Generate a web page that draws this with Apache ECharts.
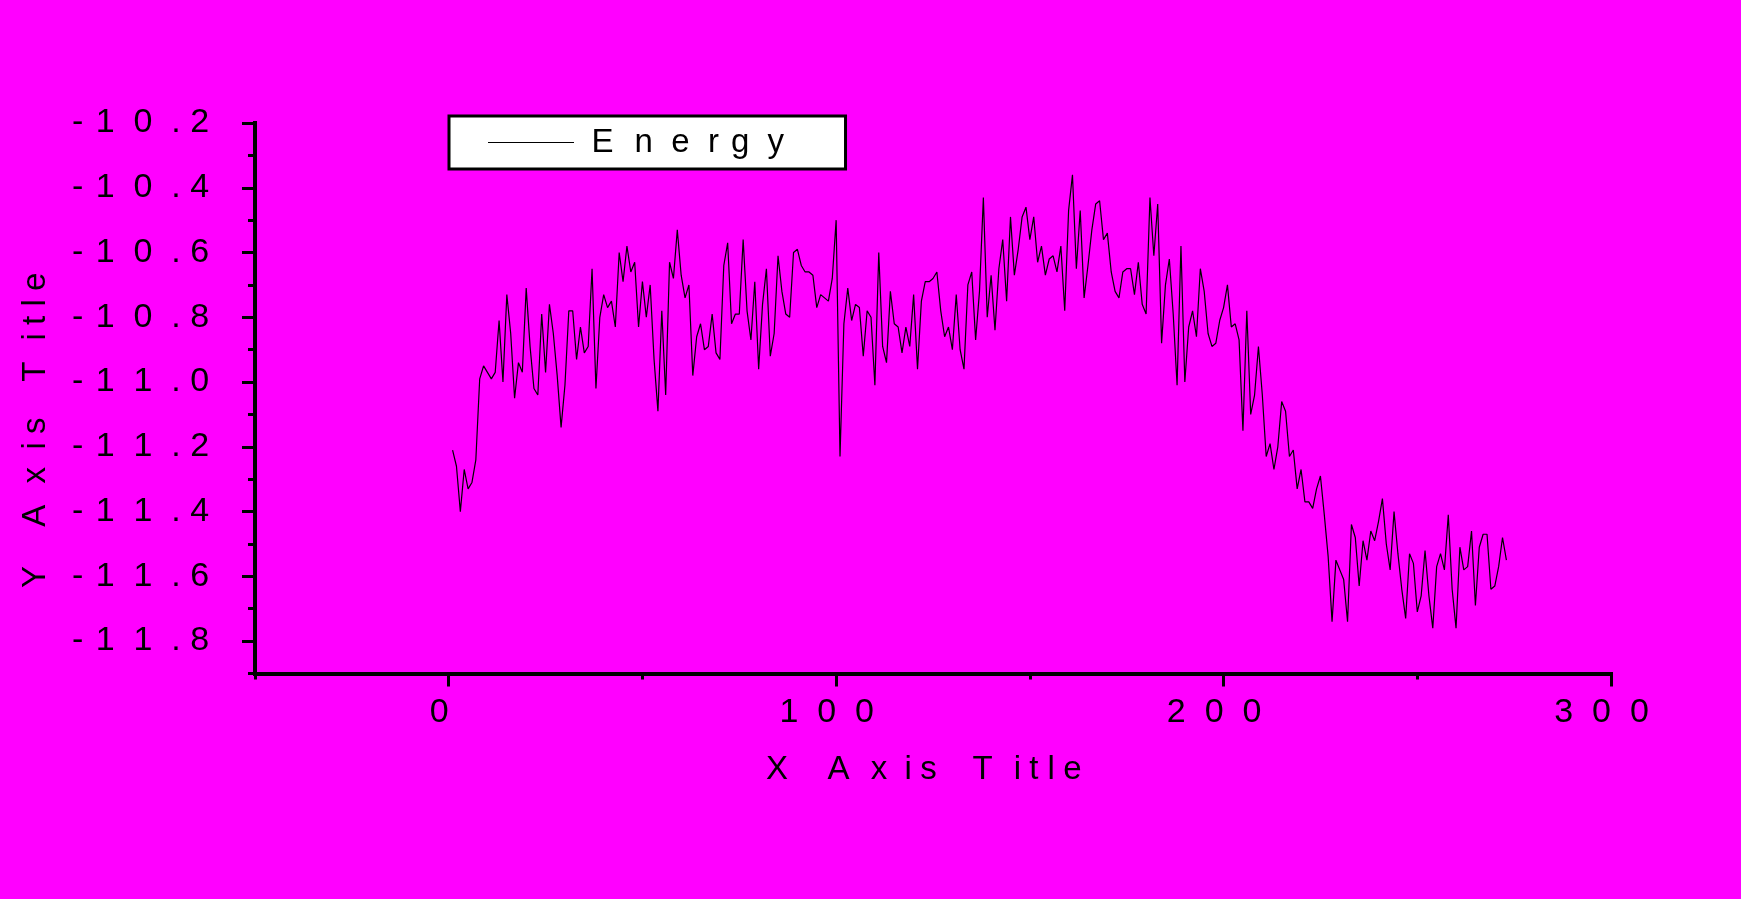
<!DOCTYPE html>
<html>
<head>
<meta charset="utf-8">
<script src="https://cdn.jsdelivr.net/npm/echarts@6/dist/echarts.min.js"></script>
<style>
html,body{margin:0;padding:0;background:#FF00FF;}
#chart{width:1741px;height:899px;}
</style>
</head>
<body>
<div id="chart"></div>
<script>
// ---- data ----
const seriesName = 'Energy';
const firstStep = 1;
const energy = [
-11.21,-11.26,-11.40,-11.27,-11.33,-11.31,-11.24,-10.99,-10.95,-10.97,
-10.99,-10.97,-10.81,-11.00,-10.73,-10.85,-11.05,-10.94,-10.97,-10.71,
-10.89,-11.02,-11.04,-10.79,-10.97,-10.76,-10.85,-10.98,-11.14,-11.01,
-10.78,-10.78,-10.93,-10.83,-10.91,-10.89,-10.65,-11.02,-10.80,-10.73,
-10.77,-10.75,-10.83,-10.60,-10.69,-10.58,-10.66,-10.63,-10.83,-10.69,
-10.80,-10.70,-10.93,-11.09,-10.78,-11.04,-10.63,-10.68,-10.53,-10.67,
-10.74,-10.70,-10.98,-10.86,-10.82,-10.90,-10.89,-10.79,-10.91,-10.93,
-10.64,-10.57,-10.82,-10.79,-10.79,-10.56,-10.78,-10.87,-10.69,-10.96,
-10.76,-10.65,-10.92,-10.85,-10.61,-10.72,-10.79,-10.80,-10.60,-10.59,
-10.64,-10.66,-10.66,-10.67,-10.77,-10.73,-10.74,-10.75,-10.68,-10.50,
-11.23,-10.82,-10.71,-10.81,-10.76,-10.77,-10.92,-10.78,-10.80,-11.01,
-10.60,-10.89,-10.94,-10.72,-10.82,-10.83,-10.91,-10.83,-10.89,-10.73,
-10.96,-10.75,-10.69,-10.69,-10.68,-10.66,-10.78,-10.86,-10.83,-10.90,
-10.73,-10.90,-10.96,-10.70,-10.66,-10.87,-10.72,-10.43,-10.80,-10.67,
-10.84,-10.65,-10.56,-10.75,-10.49,-10.67,-10.59,-10.49,-10.46,-10.56,
-10.49,-10.63,-10.58,-10.67,-10.62,-10.61,-10.66,-10.58,-10.78,-10.47,
-10.36,-10.65,-10.47,-10.74,-10.64,-10.53,-10.45,-10.44,-10.56,-10.54,
-10.66,-10.72,-10.74,-10.66,-10.65,-10.65,-10.73,-10.63,-10.76,-10.79,
-10.43,-10.61,-10.45,-10.88,-10.70,-10.62,-10.79,-11.01,-10.58,-11.00,
-10.83,-10.78,-10.86,-10.65,-10.72,-10.85,-10.89,-10.88,-10.81,-10.77,
-10.70,-10.83,-10.82,-10.87,-11.15,-10.78,-11.10,-11.04,-10.89,-11.04,
-11.23,-11.19,-11.27,-11.20,-11.06,-11.09,-11.23,-11.21,-11.33,-11.27,
-11.37,-11.37,-11.39,-11.33,-11.29,-11.41,-11.54,-11.74,-11.55,-11.58,
-11.61,-11.74,-11.44,-11.48,-11.63,-11.49,-11.55,-11.46,-11.49,-11.43,
-11.36,-11.50,-11.58,-11.40,-11.53,-11.64,-11.73,-11.53,-11.56,-11.71,
-11.66,-11.52,-11.66,-11.76,-11.57,-11.53,-11.58,-11.41,-11.64,-11.76,
-11.51,-11.58,-11.57,-11.46,-11.69,-11.51,-11.47,-11.47,-11.64,-11.63,
-11.57,-11.48,-11.55
];
const xMajorTicks = [0, 100, 200, 300];
const xMinorTicks = [-50, 50, 150, 250];
const yMajorTicks = [-11.8, -11.6, -11.4, -11.2, -11.0, -10.8, -10.6, -10.4, -10.2];
const yMinorTicks = [-11.9, -11.7, -11.5, -11.3, -11.1, -10.9, -10.7, -10.5, -10.3];
const xTitle = 'X Axis Title';
const yTitle = 'Y Axis Title';

// ---- wide letter spacing like the original (each glyph followed by a gap of its own width) ----
const FONT = 'Liberation Sans';
const mctx = document.createElement('canvas').getContext('2d');
function spaced(str, size) {
  mctx.font = size + 'px ' + FONT;
  const sp = mctx.measureText(' ').width;
  const hair = mctx.measureText('\u200A').width;
  let out = '';
  for (const ch of str) {
    const w = mctx.measureText(ch).width;
    out += ch;
    const n = Math.floor(w / sp + 1e-6);
    out += ' '.repeat(n);
    const rem = w - n * sp;
    if (hair > 0.5) out += '\u200A'.repeat(Math.round(rem / hair));
  }
  return out;
}
function textWidth(str, size) {
  mctx.font = size + 'px ' + FONT;
  return mctx.measureText(str).width;
}

const LABEL_SIZE = 34;
const TITLE_SIZE = 33;
const gridBox = {left: 255, right: 130, top: 123, bottom: 225.5};
const plotMidY = 123 + (899 - 225.5 - 123) / 2;
let yName = spaced(yTitle, TITLE_SIZE);
{
  const want = 2 * (588 - plotMidY);
  const w = textWidth(yName, TITLE_SIZE);
  const sp = textWidth(' ', TITLE_SIZE);
  const extra = Math.max(0, Math.round((want - w) / sp));
  yName += ' '.repeat(extra);
}

const data = energy.map((v, i) => [firstStep + i, v]);
const black = '#000000';
const lbl = {color: black, fontFamily: FONT, fontSize: LABEL_SIZE};
const ttl = {color: black, fontFamily: FONT, fontSize: TITLE_SIZE};

const chart = echarts.init(document.getElementById('chart'), null, {renderer: 'canvas'});
chart.setOption({
  backgroundColor: '#FF00FF',
  animation: false,
  grid: [
    Object.assign({}, gridBox),
    Object.assign({}, gridBox)
  ],
  legend: {
    data: [{name: seriesName, icon: 'rect'}],
    selectedMode: false,
    left: 449,
    top: 116,
    itemWidth: 86,
    itemHeight: 1,
    itemGap: 0,
    itemStyle: {color: black, borderWidth: 0},
    padding: [10, 44, 10, 39],
    backgroundColor: '#FFFFFF',
    borderColor: black,
    borderWidth: 3,
    borderRadius: 0,
    formatter: name => spaced(name, 33),
    textStyle: {color: black, fontFamily: FONT, fontSize: 33, lineHeight: 33, padding: [0, 0, 0, 12.5]}
  },
  xAxis: [
    {
      gridIndex: 0, type: 'value', min: -50, max: 300,
      axisLine: {onZero: false, lineStyle: {color: black, width: 4, cap: 'square'}},
      axisTick: {customValues: xMajorTicks, length: 13, lineStyle: {color: black, width: 3}},
      axisLabel: Object.assign({customValues: xMajorTicks, margin: 22, formatter: v => spaced(String(v), LABEL_SIZE)}, lbl),
      splitLine: {show: false},
      name: spaced(xTitle, TITLE_SIZE), nameLocation: 'middle', nameGap: 80,
      nameTextStyle: ttl
    },
    {
      gridIndex: 1, type: 'value', min: -50, max: 300,
      axisLine: {show: false, onZero: false},
      axisTick: {customValues: xMinorTicks, length: 6, lineStyle: {color: black, width: 3}},
      axisLabel: {show: false},
      splitLine: {show: false}
    }
  ],
  yAxis: [
    {
      gridIndex: 0, type: 'value', min: -11.9, max: -10.2,
      axisLine: {show: true, onZero: false, lineStyle: {color: black, width: 4, cap: 'square'}},
      axisTick: {show: true, customValues: yMajorTicks, length: 13, lineStyle: {color: black, width: 3}},
      axisLabel: Object.assign({customValues: yMajorTicks, margin: 27, formatter: v => spaced(Number(v).toFixed(1), LABEL_SIZE)}, lbl),
      splitLine: {show: false},
      name: yName, nameLocation: 'middle', nameGap: 203,
      nameTextStyle: ttl
    },
    {
      gridIndex: 1, type: 'value', min: -11.9, max: -10.2,
      axisLine: {show: false, onZero: false},
      axisTick: {show: true, customValues: yMinorTicks, length: 7, lineStyle: {color: black, width: 3}},
      axisLabel: {show: false},
      splitLine: {show: false}
    }
  ],
  series: [{
    name: seriesName,
    type: 'line',
    xAxisIndex: 0,
    yAxisIndex: 0,
    data: data,
    symbol: 'none',
    showSymbol: false,
    lineStyle: {color: black, width: 1.2},
    itemStyle: {color: black}
  }]
});
</script>
</body>
</html>
